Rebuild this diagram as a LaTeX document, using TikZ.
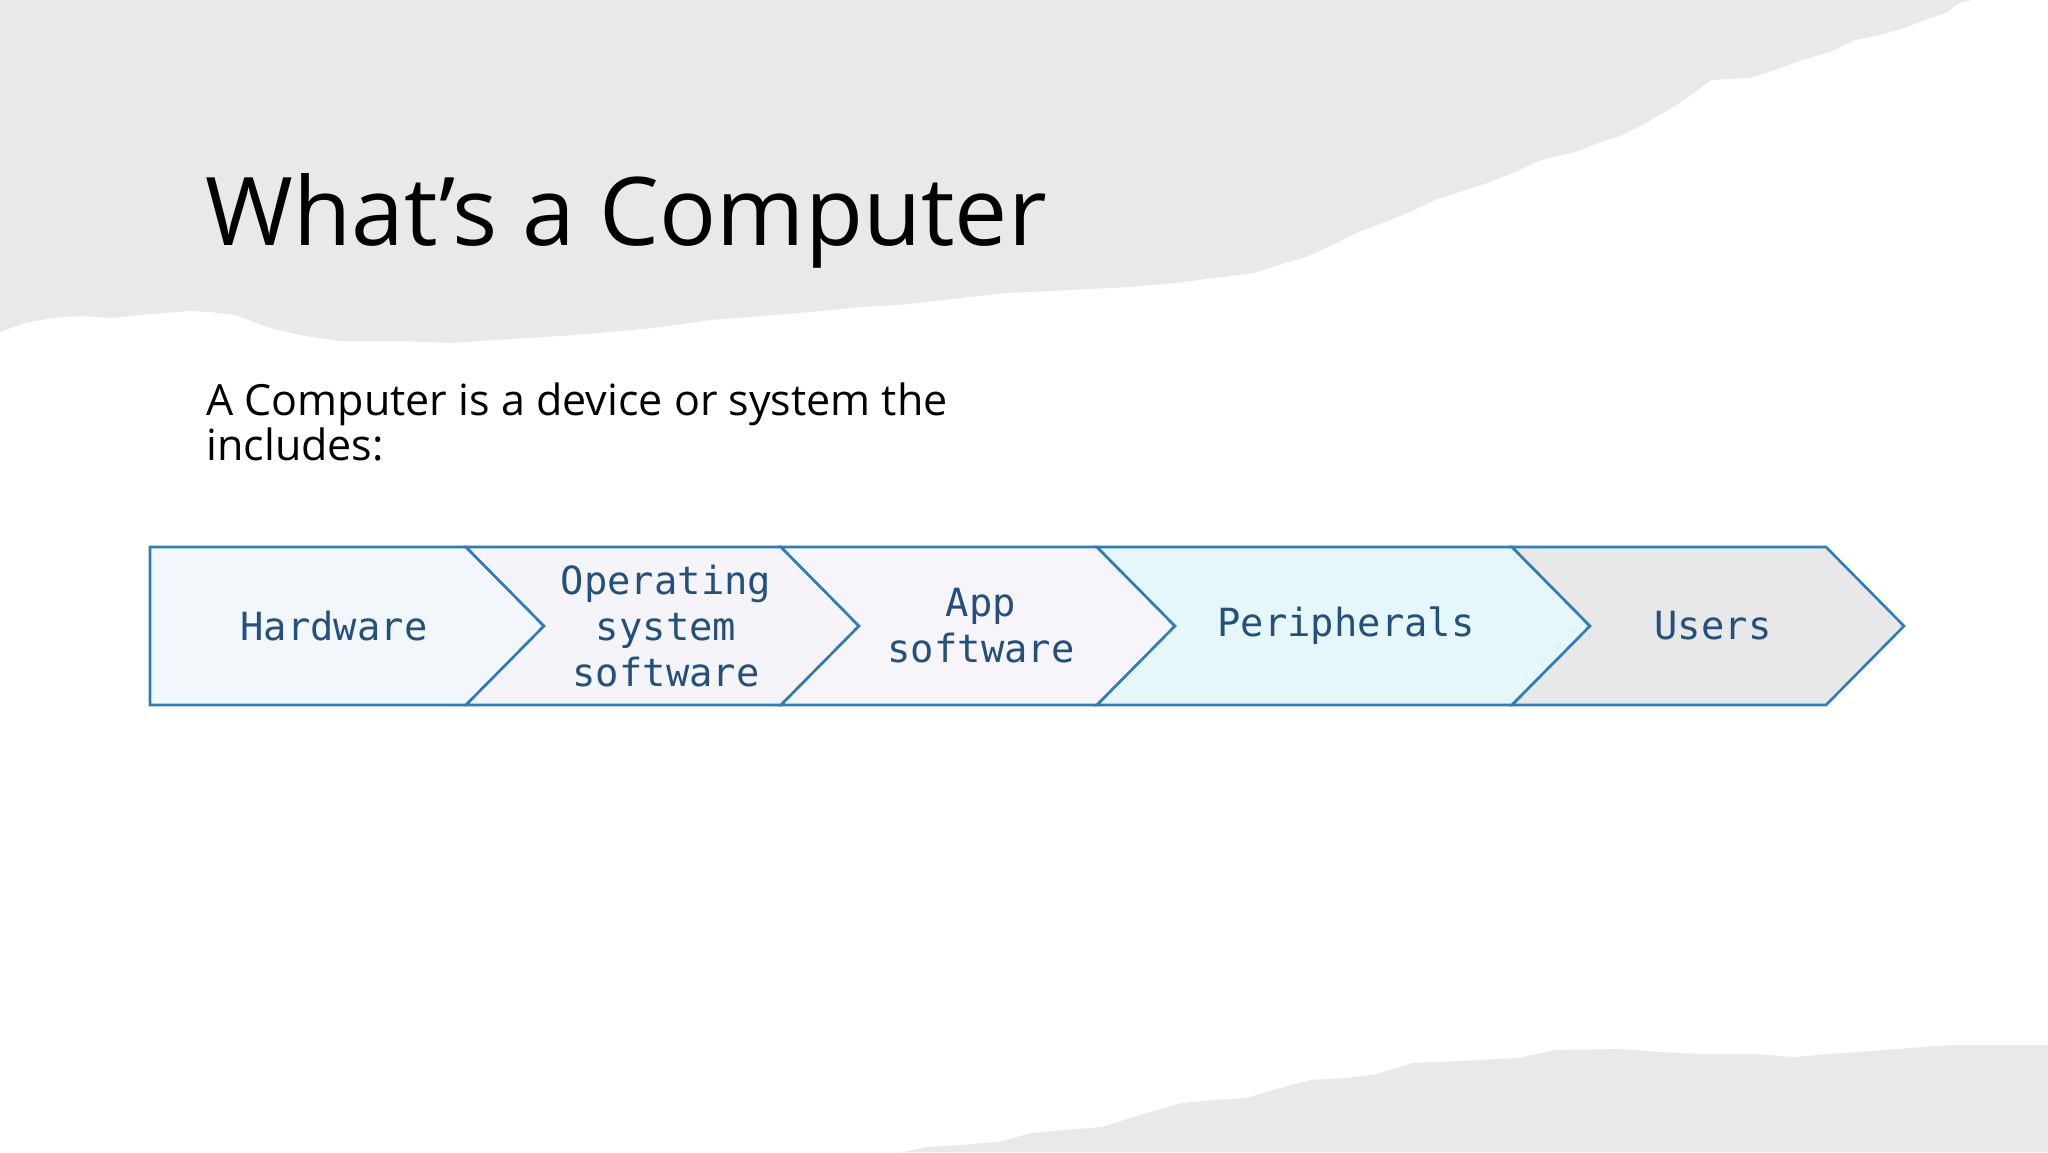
\documentclass[tikz,border=0pt]{standalone}
\usepackage{fontspec}
\setmainfont{Open Sans}
\newfontfamily\chevfont{DejaVu Sans Mono}
\definecolor{paper}{HTML}{EAE9E7}
\definecolor{chevline}{HTML}{2F7DB6}
\definecolor{chevtext}{HTML}{23507D}
\definecolor{hwfill}{HTML}{F2F7FC}
\definecolor{osfill}{HTML}{F4F4F9}
\definecolor{appfill}{HTML}{F7F5FA}
\definecolor{perfill}{HTML}{E6F7FB}
\definecolor{usrfill}{HTML}{E8E8E8}

\begin{document}
\begin{tikzpicture}[x=0.5pt, y=-0.5pt,
    chevron/.style={fill=#1, draw=chevline, line width=1.3pt, line join=miter},
    chevlabel/.style={text=chevtext, align=center, inner sep=0pt,
      font=\chevfont\fontsize{19.4}{22.9}\selectfont}]
    % Define chevron parameters (pixel units, y down)
    \pgfmathsetmacro{\ytop}{547}
    \pgfmathsetmacro{\ybot}{705}
    \pgfmathsetmacro{\ymid}{626}
    \pgfmathsetmacro{\dep}{78}

    % Page
    \useasboundingbox (0,0) rectangle (2048,1152);
    \fill[white] (0,0) rectangle (2048,1152);

    % Torn paper, top
    \fill[paper] (0,0) -- (1972,0) -- (1959,3) -- (1946,13) -- (1925,20) -- (1907,27)
      -- (1880,35) -- (1855,40) -- (1830,52) -- (1802,60) -- (1775,70) -- (1750,78)
      -- (1711,80) -- (1690,96) -- (1668,110) -- (1646,123) -- (1620,136) -- (1606,140)
      -- (1575,152) -- (1541,160) -- (1515,172) -- (1490,182) -- (1466,190) -- (1437,199)
      -- (1410,212) -- (1385,222) -- (1358,232) -- (1335,244) -- (1306,257) -- (1282,264)
      -- (1254,273) -- (1215,278) -- (1175,283) -- (1130,287) -- (1090,289) -- (1050,291)
      -- (1006,293) -- (960,298) -- (910,304) -- (860,307) -- (810,312) -- (760,316)
      -- (710,320) -- (653,328) -- (610,332) -- (560,336) -- (496,340) -- (450,343)
      -- (400,341) -- (340,341) -- (305,336) -- (270,328) -- (235,315) -- (210,312)
      -- (189,311) -- (150,314) -- (110,318) -- (80,316) -- (52,318) -- (25,323)
      -- (0,332) -- cycle;

    % Torn paper, bottom
    \fill[paper] (903,1152) -- (927,1147) -- (960,1145) -- (999,1142) -- (1031,1133)
      -- (1065,1130) -- (1102,1127) -- (1140,1115) -- (1182,1103) -- (1215,1100)
      -- (1246,1098) -- (1280,1088) -- (1310,1080) -- (1345,1078) -- (1373,1075)
      -- (1413,1063) -- (1460,1061) -- (1517,1058) -- (1556,1050) -- (1620,1049)
      -- (1660,1052) -- (1700,1054) -- (1750,1054) -- (1795,1057) -- (1830,1054)
      -- (1859,1052) -- (1910,1048) -- (1954,1045) -- (2048,1045) -- (2048,1152) -- cycle;

    % Title and intro text
    \node[anchor=base west, inner sep=0pt, font=\fontsize{47.4}{56}\selectfont]
      (title) at (205,245) {What’s a Computer};
    \node[anchor=base west, inner sep=0pt, align=left,
      font=\fontsize{21.5}{22.2}\selectfont] (intro) at (206,460)
      {A Computer is a device or system the\\includes:};

    % Draw chevrons
    \draw[chevron=hwfill] (150,\ytop) -- (466,\ytop) -- ({466+\dep},\ymid)
      -- (466,\ybot) -- (150,\ybot) -- cycle;
    \draw[chevron=osfill] (466,\ytop) -- (781,\ytop) -- ({781+\dep},\ymid)
      -- (781,\ybot) -- (466,\ybot) -- ({466+\dep},\ymid) -- cycle;
    \draw[chevron=appfill] (781,\ytop) -- (1097,\ytop) -- ({1097+\dep},\ymid)
      -- (1097,\ybot) -- (781,\ybot) -- ({781+\dep},\ymid) -- cycle;
    \draw[chevron=perfill] (1097,\ytop) -- (1512,\ytop) -- ({1512+\dep},\ymid)
      -- (1512,\ybot) -- (1097,\ybot) -- ({1097+\dep},\ymid) -- cycle;
    \draw[chevron=usrfill] (1512,\ytop) -- (1826,\ytop) -- ({1826+\dep},\ymid)
      -- (1826,\ybot) -- (1512,\ybot) -- ({1512+\dep},\ymid) -- cycle;

    % Chevron labels
    \node[chevlabel] (hw) at (334,\ymid) {Hardware};
    \node[chevlabel] (os) at (666,\ymid) {Operating\\system\\software};
    \node[chevlabel] (app) at (981,\ymid) {App\\software};
    \node[chevlabel] (per) at (1346,\ymid) {Peripherals};
    \node[chevlabel] (usr) at (1713,\ymid) {Users};
\end{tikzpicture}
\end{document}
